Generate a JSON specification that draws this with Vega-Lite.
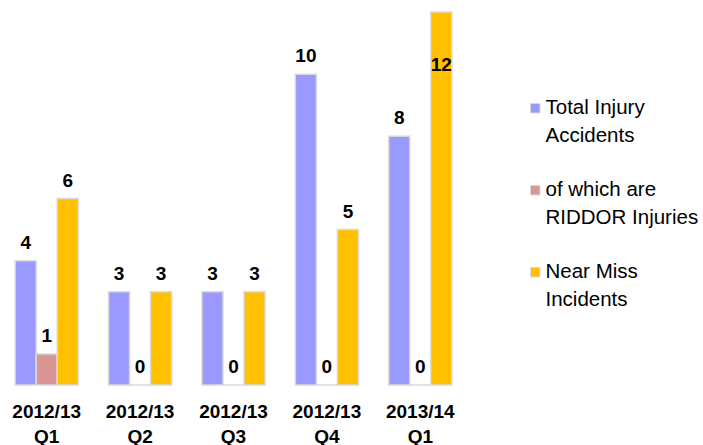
{
  "$schema": "https://vega.github.io/schema/vega-lite/v6.json",
  "width": 467,
  "height": 373,
  "autosize": {"type": "none"},
  "padding": {"left": 0, "top": 12, "right": 236, "bottom": 60},
  "background": "white",
  "config": {"view": {"stroke": null}, "font": "Liberation Sans"},
  "data": {
    "values": [
      {"quarter": "2012/13 Q1", "series": "Total Injury Accidents", "count": 4},
      {"quarter": "2012/13 Q1", "series": "of which are RIDDOR Injuries", "count": 1},
      {"quarter": "2012/13 Q1", "series": "Near Miss Incidents", "count": 6},
      {"quarter": "2012/13 Q2", "series": "Total Injury Accidents", "count": 3},
      {"quarter": "2012/13 Q2", "series": "of which are RIDDOR Injuries", "count": 0},
      {"quarter": "2012/13 Q2", "series": "Near Miss Incidents", "count": 3},
      {"quarter": "2012/13 Q3", "series": "Total Injury Accidents", "count": 3},
      {"quarter": "2012/13 Q3", "series": "of which are RIDDOR Injuries", "count": 0},
      {"quarter": "2012/13 Q3", "series": "Near Miss Incidents", "count": 3},
      {"quarter": "2012/13 Q4", "series": "Total Injury Accidents", "count": 10},
      {"quarter": "2012/13 Q4", "series": "of which are RIDDOR Injuries", "count": 0},
      {"quarter": "2012/13 Q4", "series": "Near Miss Incidents", "count": 5},
      {"quarter": "2013/14 Q1", "series": "Total Injury Accidents", "count": 8},
      {"quarter": "2013/14 Q1", "series": "of which are RIDDOR Injuries", "count": 0},
      {"quarter": "2013/14 Q1", "series": "Near Miss Incidents", "count": 12}
    ]
  },
  "encoding": {
    "x": {
      "field": "quarter",
      "type": "nominal",
      "sort": null,
      "scale": {"paddingInner": 0.325, "paddingOuter": 0.1625},
      "axis": {
        "title": null,
        "labelAngle": 0,
        "ticks": false,
        "domain": false,
        "labelExpr": "split(datum.label, ' ')",
        "labelFont": "Liberation Sans",
        "labelFontSize": 19,
        "labelFontWeight": "bold",
        "labelColor": "black",
        "labelPadding": 17,
        "labelLineHeight": 25,
        "labelBaseline": "top"
      }
    },
    "xOffset": {
      "field": "series",
      "type": "nominal",
      "sort": ["Total Injury Accidents", "of which are RIDDOR Injuries", "Near Miss Incidents"],
      "scale": {"paddingInner": 0, "paddingOuter": 0}
    },
    "y": {
      "field": "count",
      "type": "quantitative",
      "scale": {"domain": [0, 12], "nice": false},
      "axis": null
    }
  },
  "layer": [
    {
      "mark": {"type": "bar", "stroke": "#d9d9d9", "strokeWidth": 1.5},
      "encoding": {
        "color": {
          "field": "series",
          "type": "nominal",
          "scale": {
            "domain": ["Total Injury Accidents", "of which are RIDDOR Injuries", "Near Miss Incidents"],
            "range": ["#9999FF", "#D99694", "#FFC000"]
          },
          "legend": {
            "title": null,
            "orient": "none",
            "legendX": 525,
            "legendY": 86,
            "symbolType": "square",
            "symbolSize": 90,
            "symbolStrokeColor": "#d9d9d9",
            "symbolStrokeWidth": 1,
            "labelFont": "Liberation Sans",
            "labelFontSize": 20.5,
            "labelColor": "black",
            "labelLimit": 300,
            "labelOffset": 0,
            "rowPadding": 33,
            "labelExpr": "datum.label == 'Total Injury Accidents' ? ['Total Injury', 'Accidents'] : datum.label == 'of which are RIDDOR Injuries' ? ['of which are', 'RIDDOR Injuries'] : ['Near Miss', 'Incidents']",
            "encode": {"labels": {"update": {"lineHeight": {"value": 28}}}}
          }
        }
      }
    },
    {
      "transform": [{"filter": "datum.count < 11"}],
      "mark": {
        "type": "text",
        "baseline": "bottom",
        "dy": -8,
        "fontWeight": "bold",
        "fontSize": 19,
        "font": "Liberation Sans",
        "color": "black"
      },
      "encoding": {"text": {"field": "count", "type": "quantitative"}}
    },
    {
      "transform": [{"filter": "datum.count >= 11"}],
      "mark": {
        "type": "text",
        "baseline": "top",
        "dy": 44,
        "fontWeight": "bold",
        "fontSize": 19,
        "font": "Liberation Sans",
        "color": "black"
      },
      "encoding": {"text": {"field": "count", "type": "quantitative"}}
    }
  ]
}
